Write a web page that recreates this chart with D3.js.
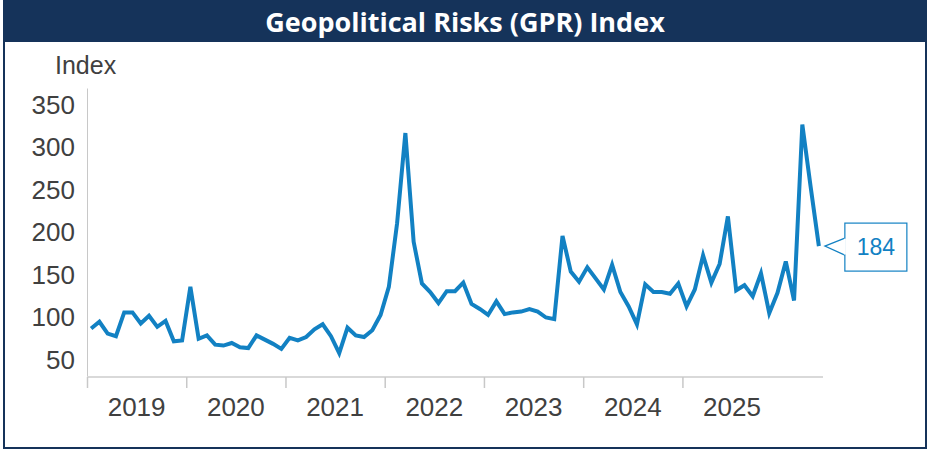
<!DOCTYPE html>
<html>
<head>
<meta charset="utf-8">
<script src="https://cdn.jsdelivr.net/npm/d3@7"></script>
<style>
  html, body { margin: 0; padding: 0; background: #fff; }
  svg { display: block; }
</style>
</head>
<body>
<div id="block"></div>
<script>
// data: monthly GPR index, Jan 2019 onwards
var gpr = [
    87, 95, 81, 78, 106, 106, 93, 102, 89, 96, 72, 73,      // 2019
    136, 75, 79, 68, 67, 70, 65, 64, 79, 74, 69, 63,        // 2020
    76, 73, 77, 86, 92, 78, 58, 88, 79, 77, 85, 103,        // 2021
    136, 211, 317, 189, 140, 130, 117, 131, 131, 141, 116, 110, // 2022
    103, 119, 104, 106, 107, 110, 107, 100, 98, 196, 154, 142,  // 2023
    159, 146, 133, 162, 130, 113, 92, 139, 130, 130, 128, 140,  // 2024
    113, 133, 173, 141, 163, 219, 132, 138, 125, 152, 105, 129, // 2025
    166, 120, 327, 254, 184
];
var years = ["2019", "2020", "2021", "2022", "2023", "2024", "2025"];
var yTicks = [50, 100, 150, 200, 250, 300, 350];
var title = "Geopolitical Risks (GPR) Index";
var yTitle = "Index";
var lastLabel = "184";

// dimensions
var svg_dx = 932,
    svg_dy = 449,
    navy = "#15335a",
    blue = "#1281c3",
    textCol = "#404040";

var svg = d3.select("#block")
            .append("svg")
            .attr("width", svg_dx)
            .attr("height", svg_dy);

// frame + title bar
svg.append("rect")
   .attr("x", 4).attr("y", 0)
   .attr("width", 922).attr("height", 448)
   .attr("fill", "#fff")
   .attr("stroke", navy)
   .attr("stroke-width", 2);

svg.append("rect")
   .attr("x", 3).attr("y", 0)
   .attr("width", 924).attr("height", 42)
   .attr("fill", navy);

svg.append("text")
   .attr("x", 465).attr("y", 32)
   .attr("text-anchor", "middle")
   .style("font-family", "'Open Sans', sans-serif")
   .style("font-weight", 700)
   .style("font-size", "27px")
   .attr("fill", "#fff")
   .text(title);

// scales
var xScale = d3.scaleLinear()
               .domain([0, gpr.length])
               .range([87, 823]);

var yScale = d3.scaleLinear()
               .domain([30, 370])
               .range([377, 88]);

var font = "'Liberation Sans', Arial, sans-serif";

// y-axis
var yAxis = d3.axisLeft(yScale)
              .tickValues(yTicks)
              .tickSize(0)
              .tickPadding(12);

var y_axis = svg.append("g")
                .attr("transform", "translate(87, 0)")
                .call(yAxis);
y_axis.select(".domain").attr("stroke", "#c8c8c8").attr("stroke-width", 1);
y_axis.selectAll("text")
      .style("font-family", font)
      .style("font-size", "26px")
      .attr("fill", textCol);

svg.append("text")
   .attr("x", 55).attr("y", 74)
   .style("font-family", font)
   .style("font-size", "25px")
   .attr("fill", textCol)
   .text(yTitle);

// x-axis: ticks at year boundaries, labels mid-year
var yearStarts = years.map(function(d, i) { return i * 12; });
var xAxis = d3.axisBottom(xScale)
              .tickValues(yearStarts)
              .tickSize(11)
              .tickFormat("");

var x_axis = svg.append("g")
                .attr("transform", "translate(0, 377)")
                .call(xAxis);
x_axis.select(".domain")
      .attr("d", "M" + xScale(0) + ",0H" + xScale(gpr.length))
      .attr("stroke", "#d9d9d9")
      .attr("stroke-width", 2);
x_axis.selectAll(".tick line").attr("stroke", "#c8c8c8").attr("stroke-width", 1.5);

svg.append("g")
   .selectAll("text")
   .data(years)
   .enter()
   .append("text")
   .attr("x", function(d, i) { return xScale(i * 12 + 6); })
   .attr("y", 416)
   .attr("text-anchor", "middle")
   .style("font-family", font)
   .style("font-size", "26px")
   .attr("fill", textCol)
   .text(function(d) { return d; });

// line
var line = d3.line()
             .x(function(d, i) { return xScale(i + 0.5); })
             .y(function(d) { return yScale(d); });

svg.append("path")
   .datum(gpr)
   .attr("d", line)
   .attr("fill", "none")
   .attr("stroke", blue)
   .attr("stroke-width", 4)
   .attr("stroke-linejoin", "miter");

// callout for last value
var n = gpr.length - 1,
    tipX = xScale(n + 0.5) + 6,
    tipY = yScale(gpr[n]),
    bx = tipX + 20, bw = 62, bh = 48;

svg.append("rect")
   .attr("x", bx).attr("y", tipY - 23)
   .attr("width", bw).attr("height", bh)
   .attr("fill", "#fff")
   .attr("stroke", blue)
   .attr("stroke-width", 1.2);

svg.append("path")
   .attr("d", "M" + bx + "," + (tipY - 8) + "L" + tipX + "," + tipY + "L" + bx + "," + (tipY + 9))
   .attr("fill", "#fff")
   .attr("stroke", blue)
   .attr("stroke-width", 1.2);
svg.append("line")
   .attr("x1", bx).attr("x2", bx)
   .attr("y1", tipY - 7.4).attr("y2", tipY + 8.4)
   .attr("stroke", "#fff")
   .attr("stroke-width", 2);

svg.append("text")
   .attr("x", bx + bw / 2).attr("y", tipY + 9)
   .attr("text-anchor", "middle")
   .style("font-family", font)
   .style("font-size", "23px")
   .attr("fill", blue)
   .text(lastLabel);
</script>
</body>
</html>
